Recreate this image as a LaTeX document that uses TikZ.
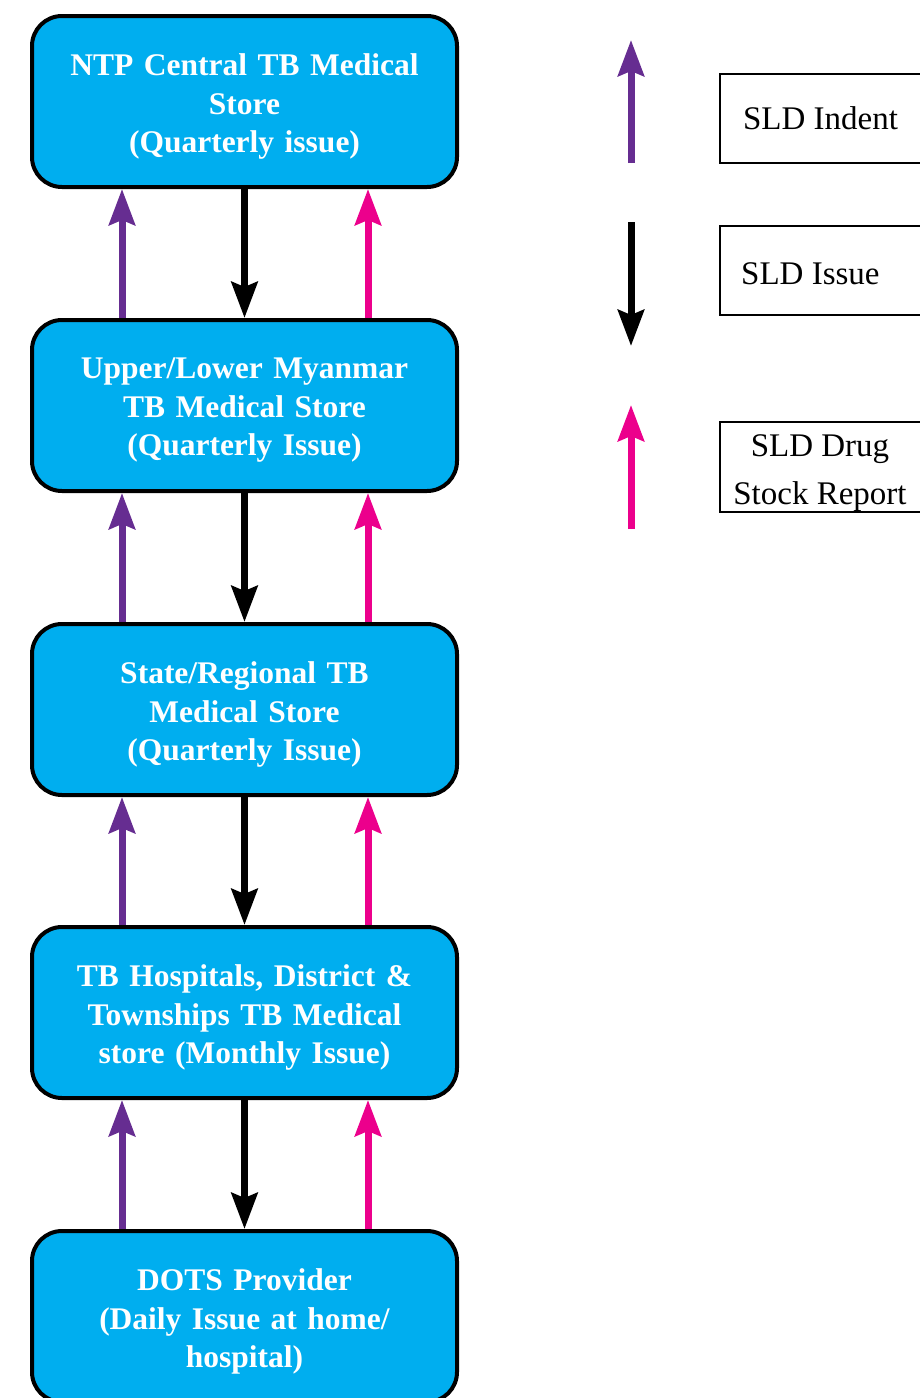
\documentclass[tikz,border=0pt]{standalone}
\usepackage{fontspec}
\setmainfont{Liberation Serif}
\usetikzlibrary{arrows.meta}
\definecolor{boxcyan}{HTML}{00AEEF}
\definecolor{indentpurple}{HTML}{662D91}
\definecolor{reportpink}{HTML}{EC008C}
\begin{document}
\begin{tikzpicture}[x=1pt,y=-1pt,
  store/.style={draw=black, line width=4pt, fill=boxcyan, rounded corners=30pt,
    minimum width=425pt, minimum height=171pt, inner sep=0pt},
  storetext/.style={inner sep=0pt, text width=420pt, align=center, text=white,
    font=\fontsize{31.5}{38.5}\selectfont\bfseries},
  legendbox/.style={draw=black, line width=2pt, minimum width=202pt, inner sep=0pt},
  legendtext/.style={inner sep=0pt, font=\fontsize{33}{48}\selectfont},
  flow/.style={line width=7pt, -{Stealth[width=26pt,length=36pt,inset=5pt]}},
  indent/.style={flow, draw=indentpurple, fill=indentpurple},
  issue/.style={flow, draw=black, fill=black},
  report/.style={flow, draw=reportpink, fill=reportpink}]
\useasboundingbox (0,0) rectangle (920,1398);
\begin{scope}
\clip (0,0) rectangle (920,1398);

% supply chain stores
\node[store] (s1) at (244.5,101.5) {};
\node[store] (s2) at (244.5,405.5) {};
\node[store] (s3) at (244.5,709.5) {};
\node[store] (s4) at (244.5,1012.5) {};
\node[store] (s5) at (244.5,1316.5) {};
\node[storetext] (s1t) at ([yshift=-5pt]s1.center) {NTP Central TB Medical\\Store\\(Quarterly issue)};
\node[storetext] (s2t) at ([yshift=-5pt]s2.center) {Upper/Lower Myanmar\\TB Medical Store\\(Quarterly Issue)};
\node[storetext] (s3t) at ([yshift=-5pt]s3.center) {State/Regional TB\\Medical Store\\(Quarterly Issue)};
\node[storetext] (s4t) at ([yshift=-5pt]s4.center) {TB Hospitals, District \&\\Townships TB Medical\\store (Monthly Issue)};
\node[storetext] (s5t) at ([yshift=-5pt]s5.center) {DOTS Provider\\(Daily Issue at home/\\hospital)};

% indents and reports go up, issues come down
\foreach \lo/\up in {s2/s1, s3/s2, s4/s3, s5/s4} {
  \draw[indent] ([xshift=-122.5pt]\lo.north) -- ([xshift=-122.5pt]\up.south);
  \draw[issue]  (\up.south) -- (\lo.north);
  \draw[report] ([xshift=123.5pt]\lo.north) -- ([xshift=123.5pt]\up.south);
}

% legend
\coordinate (li0) at (631,163); \coordinate (li1) at (631,40);
\coordinate (ls0) at (631,222); \coordinate (ls1) at (631,346);
\coordinate (lr0) at (631,529); \coordinate (lr1) at (631,405);
\draw[indent] (li0) -- (li1);
\draw[issue]  (ls0) -- (ls1);
\draw[report] (lr0) -- (lr1);

\node[legendbox, minimum height=89pt] (lg1) at (821,118.5) {};
\node[legendbox, minimum height=89pt] (lg2) at (821,270.5) {};
\node[legendbox, minimum height=90pt] (lg3) at (821,467) {};
\node[legendtext] (lg1t) at (820.5,118) {SLD Indent};
\node[legendtext, anchor=west] (lg2t) at (741,274) {SLD Issue};
\node[legendtext, align=center] (lg3t) at (820,473) {SLD Drug\\Stock Report};
\end{scope}
\end{tikzpicture}
\end{document}
